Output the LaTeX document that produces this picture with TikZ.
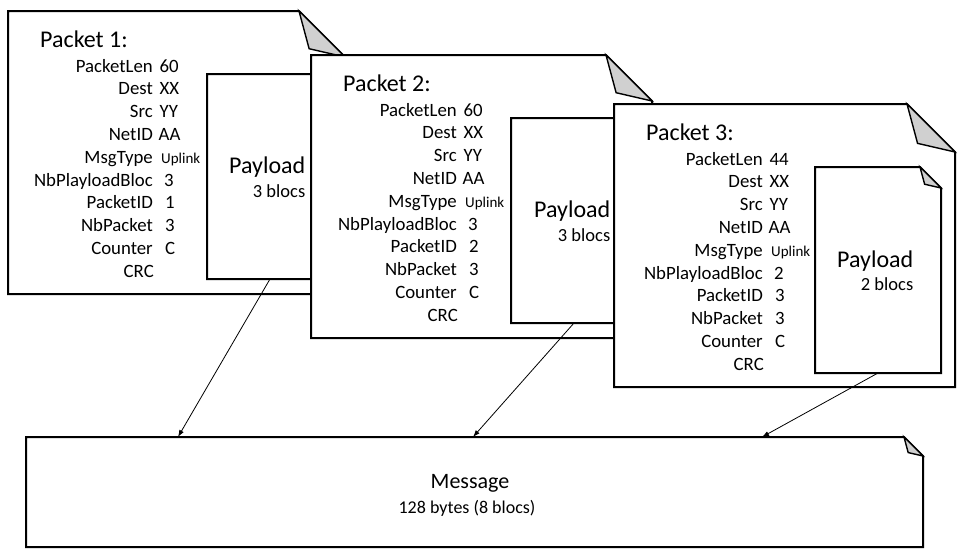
\documentclass[tikz,border=0pt]{standalone}
\usepackage{fontspec}
\setmainfont{Carlito}
\usetikzlibrary{arrows.meta}
\definecolor{foldgray}{RGB}{208,208,208}
\newcommand\foldshape[3]{%
  \filldraw[fill=white, line width=#3] (#1.north west) -- ([xshift=-#2pt]#1.north east) -- ([yshift=-#2pt]#1.north east) -- (#1.south east) -- (#1.south west) -- cycle;
  \filldraw[fill=foldgray, line width=1.4pt] ([xshift=-#2pt]#1.north east) -- ([xshift={-0.78*#2pt}, yshift={-0.82*#2pt}]#1.north east) -- ([yshift=-#2pt]#1.north east) -- cycle;
}
\newcommand\upl{\fontsize{15}{17}\selectfont}
% #1 prefix, #2 left, #3 top, #4 label right x, #5 number, #6 len, #7 nb blocs
\newcommand\pktfields[7]{%
  \node[titlet] (#1t) at (#2+32, #3+36) {Packet #5:};
  \foreach \lab/\val/\g [count=\i from 0] in {PacketLen/#6/6.5, Dest/XX/6.5, Src/YY/6.5, NetID/AA/5.5, MsgType/{\upl Uplink}/8, NbPlayloadBloc/#7/11, PacketID/#5/12, NbPacket/3/12, Counter/C/12} {
    \node[lab] (#1l\i) at (#4, #3+61+22.8*\i) {\lab};
    \node[val] (#1v\i) at (#4+\g, #3+61+22.8*\i) {\val};
  }
  \node[lab] (#1crc) at (#4+1, #3+61+22.8*9) {CRC};
}
\begin{document}
\begin{tikzpicture}[x=1pt, y=-1pt,
  frame/.style={anchor=north west, inner sep=0pt, outer sep=0pt, draw=none},
  titlet/.style={font=\fontsize{24}{28}\selectfont, anchor=base west, inner sep=0pt},
  lab/.style={font=\fontsize{18.8}{22}\selectfont, anchor=base east, inner sep=0pt},
  val/.style={font=\fontsize{18.8}{22}\selectfont, anchor=base west, inner sep=0pt},
  pltext/.style={font=\fontsize{24}{28}\selectfont, anchor=base west, inner sep=0pt},
  bltext/.style={font=\fontsize{18.5}{22}\selectfont, anchor=base east, inner sep=0pt},
  arr/.style={line width=0.8pt, -{Latex[length=7pt, width=5pt]}}]
\useasboundingbox (0,0) rectangle (967,555);
% Packet 1
\node[frame, minimum width=337pt, minimum height=283pt] (p1) at (8,11) {};
\foldshape{p1}{46}{2pt}
\node[frame, minimum width=126pt, minimum height=205pt] (pl1) at (207,74) {};
\foldshape{pl1}{20}{2pt}
\pktfields{a}{8}{11}{153}{1}{60}{3}
\node[pltext] (pay1) at (229,173) {Payload};
\node[bltext, yshift=-24pt] (bl1) at (pay1.base east) {3 blocs};
% Packet 2
\node[frame, minimum width=341pt, minimum height=283pt] (p2) at (311,55) {};
\foldshape{p2}{46}{2pt}
\node[frame, minimum width=126pt, minimum height=205pt] (pl2) at (511,118) {};
\foldshape{pl2}{20}{2pt}
\pktfields{b}{311}{55}{457}{2}{60}{3}
\node[pltext] (pay2) at (534,217) {Payload};
\node[bltext, yshift=-24pt] (bl2) at (pay2.base east) {3 blocs};
% Packet 3
\node[frame, minimum width=341pt, minimum height=283pt] (p3) at (614,104) {};
\foldshape{p3}{48}{2pt}
\node[frame, minimum width=126pt, minimum height=206pt] (pl3) at (815,167) {};
\foldshape{pl3}{21}{2pt}
\pktfields{c}{614}{104}{763}{3}{44}{2}
\node[pltext] (pay3) at (837,267) {Payload};
\node[bltext, yshift=-23pt] (bl3) at (pay3.base east) {2 blocs};
% Message
\node[frame, minimum width=897pt, minimum height=110pt] (msg) at (26,437) {};
\foldshape{msg}{19}{2pt}
\node[font=\fontsize{22}{26}\selectfont, anchor=base, inner sep=0pt] (msgt) at (470,488) {Message};
\node[font=\fontsize{18}{22}\selectfont, anchor=base, inner sep=0pt] (msgs) at (467,513) {128 bytes (8 blocs)};
\coordinate (m1) at ([xshift=152pt]msg.north west);
\coordinate (m2) at ([xshift=447pt]msg.north west);
\coordinate (m3) at ([xshift=736pt]msg.north west);
% Arrows
\draw[arr] (pl1.south) -- (m1);
\draw[arr] (pl2.south) -- (m2);
\draw[arr] (pl3.south) -- (m3);
\end{tikzpicture}
\end{document}
